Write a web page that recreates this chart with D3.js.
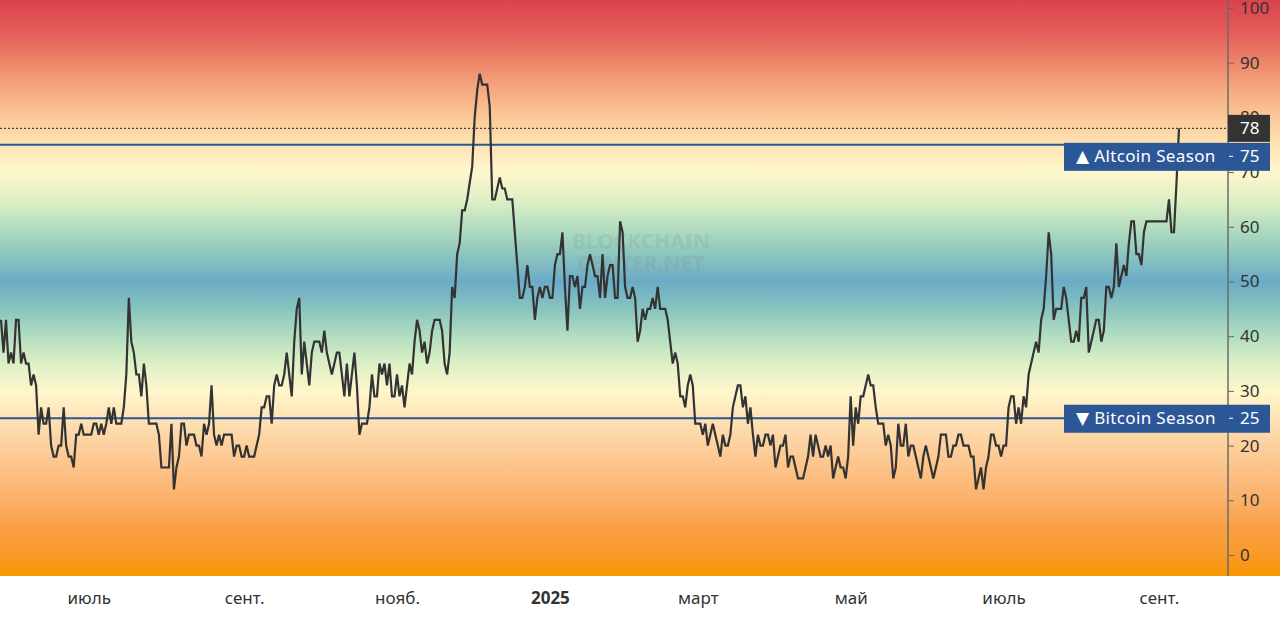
<!DOCTYPE html>
<html>
<head>
<meta charset="utf-8">
<script src="https://cdn.jsdelivr.net/npm/d3@7"></script>
<style>
    body { margin: 0; background: #fff; }
    svg text { font-family: "Noto Sans", "DejaVu Sans", sans-serif; }
</style>
</head>
<body>
<div id="chart"></div>
<script>
//altcoin season index, one value per day
const startDate = "2024-05-27";
const indexValues = [
    //may - july 2024
    43,37,43,35,37,35,43,43,35,37,35,35,31,33,31,22,27,24,24,27,20,18,18,20,20,27,20,18,18,16,22,22,
    24,22,22,22,22,24,24,22,24,22,24,27,24,27,24,24,24,27,33,47,39,37,33,33,29,35,31,24,24,24,24,
    //aug - oct
    22,16,16,16,16,24,12,16,18,24,24,20,22,22,22,20,20,18,24,22,24,31,22,20,22,20,22,22,22,22,18,20,
    20,18,18,20,18,18,18,20,22,27,27,29,29,24,31,33,31,31,33,37,33,29,39,45,47,33,39,35,31,37,39,39,
    39,37,41,37,35,33,35,37,37,33,29,35,29,33,37,31,22,24,24,24,27,33,29,29,35,33,35,31,35,29,29,
    33,29,31,27,31,35,33,39,43,41,37,39,35,37,41,43,43,43,41,35,33,37,49,47,55,57,63,63,65,68,
    //dec - feb
    71,80,85,88,86,86,86,82,65,65,67,69,67,67,65,65,65,59,53,47,47,49,53,49,49,43,47,49,47,49,49,47,
    47,53,55,55,59,49,41,51,51,49,51,45,49,49,53,55,53,51,51,47,55,47,51,53,53,47,47,61,59,49,47,47,
    49,47,39,
    //mar - apr
    41,45,43,45,45,47,45,49,45,45,45,43,39,35,37,35,29,29,27,31,33,31,24,24,24,22,24,20,22,24,22,20,
    18,22,20,20,22,27,29,31,31,27,29,24,27,22,18,22,20,20,22,22,20,22,16,18,20,20,22,16,18,18,16,14,
    //may - jun
    14,14,16,18,22,18,22,20,18,18,20,18,20,14,16,18,16,16,14,18,29,20,27,24,29,29,31,33,31,31,27,24,
    24,24,20,22,20,14,16,24,20,20,24,18,20,20,18,16,14,18,20,18,16,14,16,18,22,22,22,18,18,20,20,22,
    //jul - sep 2025
    22,20,20,20,18,18,12,14,16,12,16,18,22,22,20,20,18,20,20,27,29,29,24,27,24,29,27,33,35,37,39,37,
    43,45,51,59,55,43,45,45,45,49,47,43,39,39,41,39,47,47,49,37,39,41,43,43,39,41,49,49,47,49,57,49,
    51,53,51,57,61,61,55,55,53,59,61,61,61,61,61,61,61,61,61,65,59,59,68,78
];

//x axis labels
const tickDates = ["2024-07-01", "2024-09-01", "2024-11-01", "2025-01-01", "2025-03-01", "2025-05-01", "2025-07-01", "2025-09-01"];
const tickLabels = ["июль", "сент.", "нояб.", "2025", "март", "май", "июль", "сент."];
const yTicks = [0, 10, 20, 30, 40, 50, 60, 70, 80, 90, 100];

//season levels
const altcoinLevel = 75;
const bitcoinLevel = 25;

//background colour by index value
const bgStops = [
    [101.5, "#dc424b"], [95, "#e4605c"], [90, "#ee8568"], [85, "#f6aa82"], [80, "#fbc898"],
    [75, "#fee3b3"], [70, "#fef7cd"], [65, "#dff0c5"], [60, "#b4dec0"], [55, "#8cc6be"],
    [50, "#6babc7"], [45, "#88c4be"], [40, "#b3ddc0"], [35, "#ddf0c6"], [30, "#fff6cc"],
    [25, "#fee3b6"], [20, "#fdd09e"], [15, "#fcc084"], [10, "#fbb068"], [5, "#faa046"],
    [0, "#f99a28"], [-4, "#f99600"]
];

//sizing
const width = 1280;
const height = 618;
const plotBottom = 576;
const axisX = 1228;
const fontSize = 17;

const svg = d3.select("#chart")
    .append("svg")
    .attr("width", width)
    .attr("height", height);

const parseDate = d3.timeParse("%Y-%m-%d");
const data = indexValues.map((v, i) => ({
    date: d3.timeDay.offset(parseDate(startDate), i),
    value: v
}));

const x = d3.scaleTime()
    .domain(d3.extent(data, d => d.date))
    .range([1, 1179]);

const y = d3.scaleLinear()
    .domain([0, 100])
    .range([555, 8]);

//gradient background
const grad = svg.append("defs")
    .append("linearGradient")
    .attr("id", "bg")
    .attr("gradientUnits", "userSpaceOnUse")
    .attr("x1", 0).attr("x2", 0)
    .attr("y1", 0).attr("y2", plotBottom);

grad.selectAll("stop")
    .data(bgStops)
    .enter()
    .append("stop")
    .attr("offset", d => Math.max(0, Math.min(1, y(d[0]) / plotBottom)))
    .attr("stop-color", d => d[1]);

svg.append("rect")
    .attr("x", 0)
    .attr("y", 0)
    .attr("width", width)
    .attr("height", plotBottom)
    .attr("fill", "url(#bg)");

//watermark
const wm = svg.append("g")
    .attr("fill", "#6f8585")
    .attr("opacity", 0.15)
    .attr("font-size", 21)
    .attr("font-weight", "bold")
    .attr("text-anchor", "middle");
wm.append("text").attr("x", 641).attr("y", 249).text("BLOCKCHAIN");
wm.append("text").attr("x", 641).attr("y", 271).text("CENTER.NET");

//season lines
svg.selectAll("levelLine")
    .data([altcoinLevel, bitcoinLevel])
    .enter()
    .append("line")
    .attr("x1", 0)
    .attr("x2", axisX)
    .attr("y1", d => y(d))
    .attr("y2", d => y(d))
    .attr("stroke", "#2b5797")
    .attr("stroke-width", 2);

//last value dotted line
const last = data[data.length - 1];
svg.append("line")
    .attr("x1", 0)
    .attr("x2", axisX)
    .attr("y1", y(last.value))
    .attr("y2", y(last.value))
    .attr("stroke", "#222")
    .attr("stroke-width", 1)
    .style("stroke-dasharray", "2,2");

//index line
svg.append("path")
    .datum(data)
    .attr("fill", "none")
    .attr("stroke", "#333")
    .attr("stroke-width", 2.2)
    .attr("d", d3.line().x(d => x(d.date)).y(d => y(d.value)));

//right axis
const yAxis = svg.append("g")
    .attr("transform", `translate(${axisX},0)`)
    .call(d3.axisRight(y).tickValues(yTicks).tickSize(6).tickPadding(6));
yAxis.select(".domain").remove();
yAxis.selectAll(".tick line").attr("stroke", "#666");
yAxis.selectAll(".tick text")
    .attr("fill", "#333")
    .style("font-size", fontSize + "px");

svg.append("line")
    .attr("x1", axisX).attr("x2", axisX)
    .attr("y1", 0).attr("y2", plotBottom)
    .attr("stroke", "#6b6b6b")
    .attr("stroke-width", 1.5);

//bottom axis
const xAxis = svg.append("g")
    .attr("transform", `translate(0,${plotBottom})`)
    .call(d3.axisBottom(x)
        .tickValues(tickDates.map(parseDate))
        .tickFormat((d, i) => tickLabels[i])
        .tickSize(0)
        .tickPadding(16));
xAxis.select(".domain").remove();
xAxis.selectAll(".tick text")
    .attr("fill", "#333")
    .style("font-size", fontSize + "px")
    .style("font-weight", (d, i) => tickLabels[i] === "2025" ? "bold" : "normal");

//label boxes on the axis
const lastY = y(last.value);
const boxH = 27;
const labels = [
    { text: "▲ Altcoin Season", value: altcoinLevel, cy: lastY + boxH + 1, color: "#2b5797" },
    { text: "▼ Bitcoin Season", value: bitcoinLevel, cy: y(bitcoinLevel), color: "#2b5797" }
];

labels.forEach(l => {
    const g = svg.append("g");
    g.append("rect")
        .attr("x", 1064)
        .attr("y", l.cy - boxH / 2)
        .attr("width", 206)
        .attr("height", boxH + 1)
        .attr("fill", l.color);
    g.append("text")
        .attr("x", 1076)
        .attr("y", l.cy + 1)
        .attr("dominant-baseline", "middle")
        .attr("fill", "#fff")
        .style("font-size", fontSize + "px")
        .style("letter-spacing", "0.35px")
        .text(l.text);
    g.append("line")
        .attr("x1", axisX + 1).attr("x2", axisX + 5)
        .attr("y1", l.cy).attr("y2", l.cy)
        .attr("stroke", "#fff");
    g.append("text")
        .attr("x", 1240)
        .attr("y", l.cy + 1)
        .attr("dominant-baseline", "middle")
        .attr("fill", "#fff")
        .style("font-size", fontSize + "px")
        .text(l.value);
});

//current value box
svg.append("rect")
    .attr("x", axisX)
    .attr("y", lastY - boxH / 2)
    .attr("width", 42)
    .attr("height", boxH)
    .attr("fill", "#333");
svg.append("text")
    .attr("x", 1240)
    .attr("y", lastY + 1)
    .attr("dominant-baseline", "middle")
    .attr("fill", "#fff")
    .style("font-size", fontSize + "px")
    .text(last.value);
</script>
</body>
</html>
